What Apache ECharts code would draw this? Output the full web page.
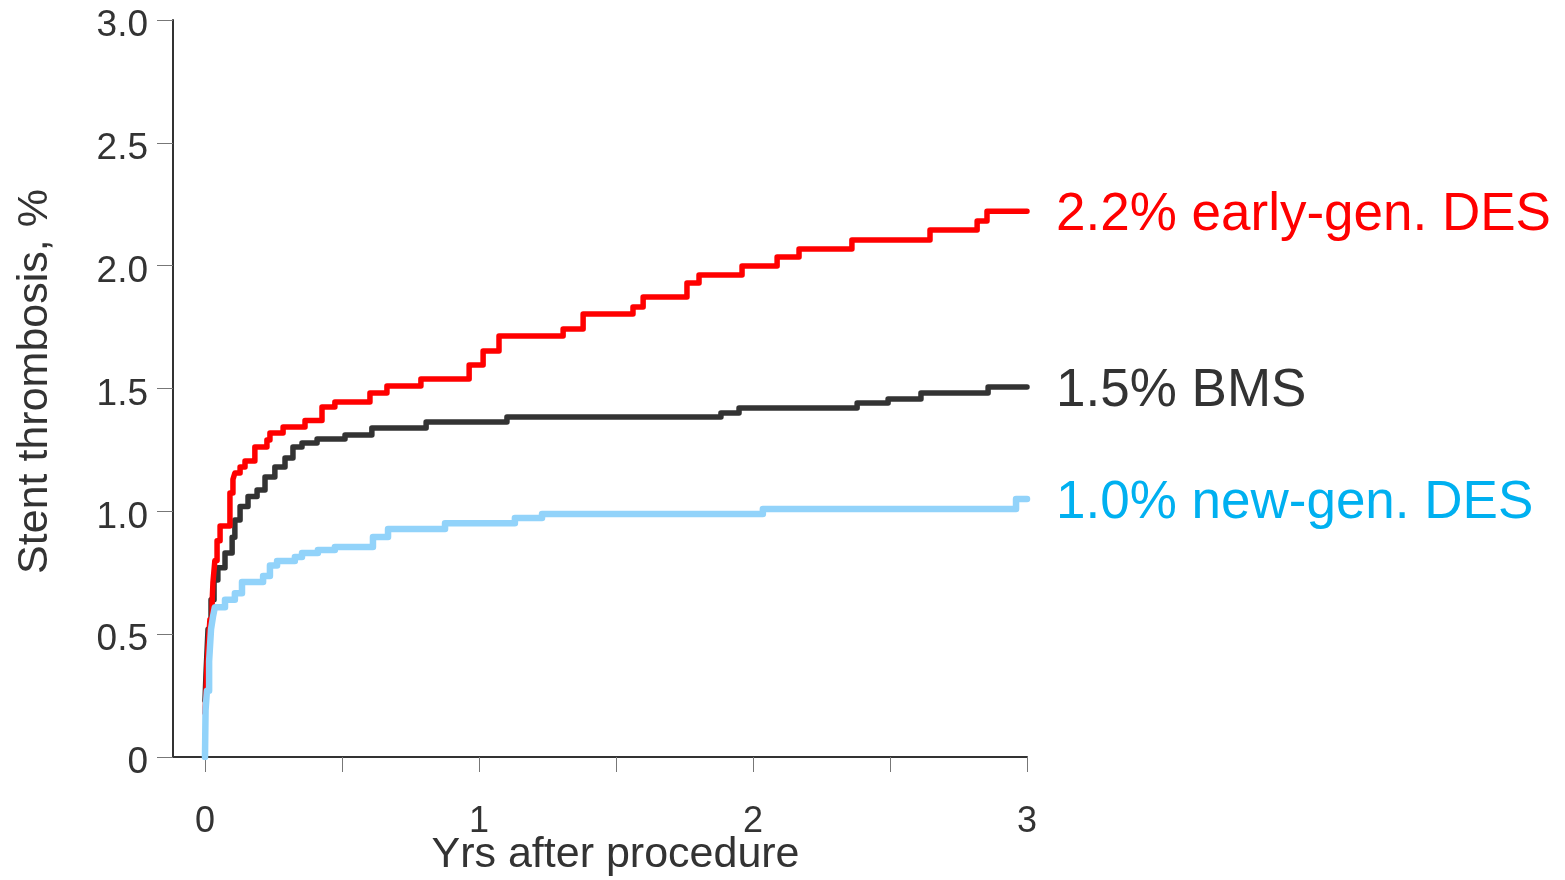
<!DOCTYPE html>
<html>
<head>
<meta charset="utf-8">
<script src="https://cdn.jsdelivr.net/npm/echarts@6/dist/echarts.min.js"></script>
<style>
html,body{margin:0;padding:0;background:#fff;}
#chart{width:1565px;height:880px;}
</style>
</head>
<body>
<div id="chart"></div>
<script>
// Years after procedure, cumulative stent thrombosis (%) — step points [year, value]
var bmsData = [
  [0,0.23],[0.004,0.35],[0.011,0.52],[0.022,0.64],[0.033,0.72],[0.047,0.77],[0.073,0.83],
  [0.099,0.895],[0.109,0.965],[0.128,1.02],[0.157,1.06],[0.190,1.087],[0.219,1.14],[0.255,1.18],
  [0.292,1.217],[0.321,1.262],[0.354,1.278],[0.409,1.294],[0.511,1.311],[0.609,1.339],
  [0.807,1.364],[1.102,1.384],[1.883,1.400],[1.949,1.421],[2.380,1.441],[2.493,1.457],
  [2.613,1.482],[2.858,1.506],[3.0,1.506]
];
var earlyDesData = [
  [0,0.18],[0.004,0.27],[0.007,0.37],[0.011,0.45],[0.018,0.56],[0.026,0.63],[0.029,0.71],
  [0.036,0.80],[0.044,0.88],[0.055,0.94],[0.091,1.075],[0.102,1.13],[0.109,1.156],[0.128,1.18],
  [0.146,1.205],[0.182,1.262],[0.226,1.29],[0.237,1.319],[0.285,1.343],[0.365,1.37],
  [0.427,1.425],[0.474,1.445],[0.602,1.482],[0.664,1.51],[0.788,1.539],[0.964,1.596],
  [1.015,1.653],[1.073,1.714],[1.307,1.742],[1.380,1.803],[1.562,1.832],[1.599,1.872],
  [1.759,1.929],[1.803,1.962],[1.960,1.999],[2.088,2.035],[2.168,2.068],[2.361,2.104],
  [2.646,2.145],[2.818,2.182],[2.854,2.222],[3.0,2.222]
];
var newDesData = [
  [0,0],[0.002,0.19],[0.007,0.27],[0.015,0.39],[0.022,0.52],[0.029,0.57],[0.036,0.61],
  [0.073,0.64],[0.109,0.667],[0.135,0.712],[0.212,0.737],[0.237,0.78],[0.263,0.798],
  [0.328,0.814],[0.354,0.83],[0.412,0.843],[0.474,0.855],[0.613,0.896],[0.668,0.928],
  [0.876,0.952],[1.131,0.973],[1.230,0.989],[2.036,1.009],[2.960,1.050],[3.0,1.05]
];
var seriesLabels = ['1.5% BMS', '2.2% early-gen. DES', '1.0% new-gen. DES'];
var xTickValues = [0, 0.5, 1, 1.5, 2, 2.5, 3];
var xLabelValues = [0, 1, 2, 3];
var yTickLabels = ['0', '0.5', '1.0', '1.5', '2.0', '2.5', '3.0'];

var FONT = 'Liberation Sans, Arial, Helvetica, sans-serif';
var chart = echarts.init(document.getElementById('chart'));

function mkSeries(name, data, lineColor, textColor, width) {
  return {
    type: 'line',
    name: name,
    data: data,
    step: 'end',
    showSymbol: false,
    symbol: 'none',
    animation: false,
    lineStyle: { color: lineColor, width: width, cap: 'round', join: 'round' },
    endLabel: {
      show: true,
      formatter: name,
      color: textColor,
      fontSize: 53,
      fontFamily: FONT,
      distance: 29,
      offset: [0, 4]
    }
  };
}

chart.setOption({
  animation: false,
  backgroundColor: '#ffffff',
  grid: { left: 173, right: 538, top: 20, bottom: 123, containLabel: false, outerBoundsMode: 'none' },
  xAxis: {
    type: 'value',
    min: -0.1168,
    max: 3,
    name: 'Yrs after procedure',
    nameLocation: 'middle',
    nameGap: 77,
    nameMoveOverlap: false,
    nameTextStyle: { fontSize: 43, color: '#333333', fontFamily: FONT, padding: [0, 0, 0, 31] },
    axisLine: { show: true, onZero: false, lineStyle: { color: '#333333', width: 2 } },
    axisTick: { show: true, customValues: xTickValues, length: 15, lineStyle: { color: '#777777', width: 1 } },
    axisLabel: { show: true, customValues: xLabelValues, fontSize: 36, color: '#333333', fontFamily: FONT, margin: 47,
      formatter: function (v) { return String(Math.round(v)); } },
    splitLine: { show: false }
  },
  yAxis: {
    type: 'value',
    min: 0,
    max: 3,
    interval: 0.5,
    name: 'Stent thrombosis, %',
    nameLocation: 'middle',
    nameGap: 116,
    nameRotate: 90,
    nameMoveOverlap: false,
    nameTextStyle: { fontSize: 43, color: '#333333', fontFamily: FONT, padding: [0, 0, 0, 14] },
    axisLine: { show: true, onZero: false, lineStyle: { color: '#333333', width: 2 } },
    axisTick: { show: true, length: 16, lineStyle: { color: '#777777', width: 1 } },
    axisLabel: { fontSize: 37, color: '#333333', fontFamily: FONT, margin: 25,
      verticalAlign: 'top', lineHeight: 12,
      formatter: function (v) { return yTickLabels[Math.round(v / 0.5)]; } },
    splitLine: { show: false }
  },
  series: [
    mkSeries(seriesLabels[0], bmsData, '#333333', '#333333', 5.5),
    mkSeries(seriesLabels[1], earlyDesData, '#ff0000', '#ff0000', 5.5),
    mkSeries(seriesLabels[2], newDesData, '#92d3fa', '#00b0f0', 6.5)
  ]
});
</script>
</body>
</html>
